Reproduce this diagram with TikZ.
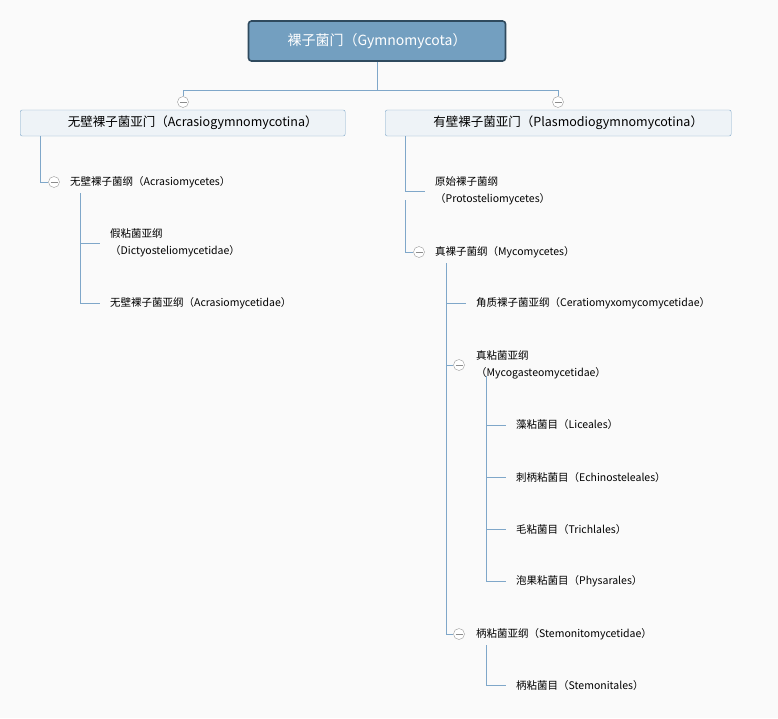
\documentclass[tikz,border=0pt]{standalone}
\usepackage{fontspec}
\setmainfont{Noto Sans CJK SC}
\usetikzlibrary{positioning}
\definecolor{rootfill}{HTML}{739FC0}
\definecolor{rootdraw}{HTML}{2F4A5E}
\definecolor{subfill}{HTML}{EEF3F7}
\definecolor{linec}{HTML}{7FA7C9}
\definecolor{bg}{HTML}{FAFAFA}
\tikzset{
  rootbox/.style={shape=rectangle,draw=rootdraw,fill=rootfill,line width=1.6pt,rounded corners=3pt,minimum width=257pt,minimum height=40pt,text=white,font=\fontsize{14}{16}\selectfont},
  subbox/.style={shape=rectangle,draw=linec,fill=subfill,rounded corners=2pt,minimum height=26pt,font=\fontsize{12.5}{14}\selectfont,anchor=west,inner sep=0pt},
  leaf/.style={anchor=west,inner sep=0pt,align=left,font=\fontsize{10.5}{17}\selectfont},
  conn/.style={draw=linec,line width=0.6pt},
  fold/.style={circle,draw=gray!80,fill=white,minimum size=11pt,inner sep=0pt,path picture={\draw[gray!90] ([xshift=-3.5pt]path picture bounding box.center) -- ([xshift=3.5pt]path picture bounding box.center);}}
}
\begin{document}
\begin{tikzpicture}[x=1pt,y=-1pt]
\fill[bg] (0,0) rectangle (778,718);
\useasboundingbox (0,0) rectangle (778,718);

% Top row
\node [rootbox] at (377,41) (root) {裸子菌门（Gymnomycota）};

% Second row
\node [subbox,minimum width=325pt] at (20,123) (left) {\hspace*{20pt}无壁裸子菌亚门（Acrasiogymnomycotina）\hfill};
\node [subbox,minimum width=346pt] at (385,123) (right) {\hspace*{20pt}有壁裸子菌亚门（Plasmodiogymnomycotina）\hfill};
\node [fold] at (183,102) (fl) {};
\node [fold] at (558,102) (fr) {};
\coordinate (split) at (377,90);

% Left branch
\node [fold] at (54,182) (facr) {};
\node [leaf] at (70,182) (acr) {无壁裸子菌纲（Acrasiomycetes）};
\node [leaf] at (110,243) (dict) {假粘菌亚纲\\ （Dictyosteliomycetidae）};
\node [leaf] at (110,303) (acrd) {无壁裸子菌亚纲（Acrasiomycetidae）};

% Right branch
\node [leaf] at (435,191) (prot) {原始裸子菌纲\\ （Protosteliomycetes）};
\node [fold] at (419,252) (fmyc) {};
\node [leaf] at (435,252) (myc) {真裸子菌纲（Mycomycetes）};
\node [leaf] at (476,303) (cera) {角质裸子菌亚纲（Ceratiomyxomycomycetidae）};
\node [fold] at (459,365) (fgas) {};
\node [leaf] at (476,365) (gas) {真粘菌亚纲\\ （Mycogasteomycetidae）};
\node [fold] at (459,634) (fste) {};
\node [leaf] at (476,634) (ste) {柄粘菌亚纲（Stemonitomycetidae）};
\node [leaf] at (516,425) (lic) {藻粘菌目（Liceales）};
\node [leaf] at (516,477) (ech) {刺柄粘菌目（Echinosteleales）};
\node [leaf] at (516,529) (tri) {毛粘菌目（Trichlales）};
\node [leaf] at (516,581) (phy) {泡果粘菌目（Physarales）};
\node [leaf] at (516,685) (stm) {柄粘菌目（Stemonitales）};

% Connectors
\draw [conn] (root) -- (split) -| (fl);
\draw [conn] (split) -| (fr);
\draw [conn] (left.south west) ++(20,0) |- (facr);
\draw [conn] (80,193) |- ([xshift=-10pt]dict.west);
\draw [conn] (80,193) |- ([xshift=-10pt]acrd.west);
\draw [conn] (right.south west) ++(20,0) |- ([xshift=-10pt]prot.west);
\draw [conn] (405,200) |- (fmyc);
\draw [conn] (446,263) |- ([xshift=-10pt]cera.west);
\draw [conn] (446,300) |- (fgas);
\draw [conn] (446,300) |- (fste);
\foreach \n in {lic,ech,tri,phy}
  \draw [conn] (486,376) |- ([xshift=-10pt]\n.west);
\draw [conn] (486,645) |- ([xshift=-10pt]stm.west);

\end{tikzpicture}
\end{document}
